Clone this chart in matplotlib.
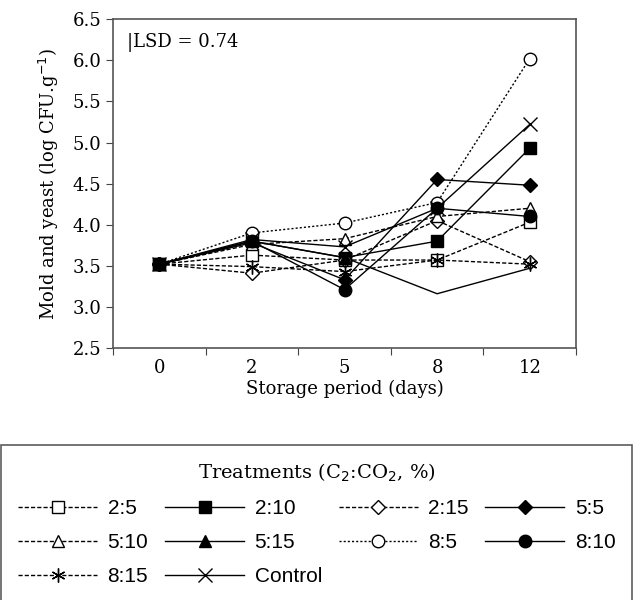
import numpy as np
import matplotlib.pyplot as plt
from matplotlib.ticker import FixedLocator, NullFormatter


# DATA
days = ["0", "2", "5", "8", "12"]
t_2_5 = [3.52, 3.63, 3.57, 3.57, 4.03]
t_2_10 = [3.52, 3.80, 3.60, 3.80, 4.93]
t_2_15 = [3.52, 3.41, 3.57, 4.05, 3.55]
t_5_5 = [3.52, 3.78, 3.33, 4.55, 4.48]
t_5_10 = [3.52, 3.76, 3.83, 4.10, 4.20]
t_5_15 = [3.52, 3.80, 3.60, 3.16, 3.47]
t_8_5 = [3.52, 3.90, 4.02, 4.27, 6.02]
t_8_10 = [3.52, 3.80, 3.21, 4.20, 4.10]
t_8_15 = [3.52, 3.49, 3.43, 3.57, 3.52]
control = [3.52, 3.82, 3.73, 4.20, 5.22]
lsd = 0.74


def plotSeries(ax, x, y, label, marker, face, ls, ms=8, markevery=None):
    ax.plot(x, y, color="black", linestyle=ls, linewidth=1.0, marker=marker,
            markersize=ms, markerfacecolor=face, markeredgecolor="black",
            markeredgewidth=1.0, label=label, markevery=markevery)


# MAIN SCRIPT
plt.rcParams['font.family'] = 'DejaVu Serif'
fig = plt.figure(figsize=(6.36, 6.0), dpi=100)
ax = fig.add_axes([0.1777, 0.42, 0.728, 0.548])

x = np.arange(len(days))
dash = (0, (3, 1.5))
plotSeries(ax, x, t_2_5, "2:5", "s", "white", dash, ms=9)
plotSeries(ax, x, t_2_10, "2:10", "s", "black", "-", ms=9)
plotSeries(ax, x, t_2_15, "2:15", "D", "white", dash, ms=7)
plotSeries(ax, x, t_5_5, "5:5", "D", "black", "-", ms=7)
plotSeries(ax, x, t_5_10, "5:10", "^", "white", dash, ms=9)
plotSeries(ax, x, t_5_15, "5:15", "^", "black", "-", ms=9, markevery=[0, 1, 2])
plotSeries(ax, x, t_8_5, "8:5", "o", "white", (0, (1.5, 1.5)), ms=9)
plotSeries(ax, x, t_8_10, "8:10", "o", "black", "-", ms=9)
plotSeries(ax, x, t_8_15, "8:15", (6, 2, 0), "white", dash, ms=10)
plotSeries(ax, x, control, "Control", "x", "none", "-", ms=10)

ax.set_xlim(-0.5, len(days) - 0.5)
ax.set_ylim(2.5, 6.5)
ax.set_yticks(np.arange(2.5, 6.51, 0.5))
ax.set_yticklabels(["%.1f" % v for v in np.arange(2.5, 6.51, 0.5)])
ax.xaxis.set_major_locator(FixedLocator(np.arange(-0.5, len(days), 1.0)))
ax.xaxis.set_major_formatter(NullFormatter())
ax.xaxis.set_minor_locator(FixedLocator(x))
ax.set_xticklabels(days, minor=True)
ax.tick_params(axis="x", which="minor", length=0, pad=8, labelsize=13)
ax.tick_params(axis="x", which="major", direction="out", length=5, color="#444444")
ax.tick_params(axis="y", direction="out", length=5, labelsize=13, color="#444444")
for s in ax.spines.values():
    s.set_color("#555555")
    s.set_linewidth(1.2)

ax.set_xlabel("Storage period (days)", fontsize=13, labelpad=2)
ax.set_ylabel("Mold and yeast (log CFU.g$^{-1}$)", fontsize=13, labelpad=8)
ax.text(0.03, 0.93, "|LSD = %.2f" % lsd, transform=ax.transAxes, fontsize=13,
        va="center", ha="left")

# legend rows read left to right, matplotlib fills columns first
handles, labels = ax.get_legend_handles_labels()
order = [0, 4, 8, 1, 5, 9, 2, 6, 3, 7]
leg = fig.legend([handles[i] for i in order], [labels[i] for i in order],
                 loc="upper left", bbox_to_anchor=(0.002, 0.258), borderaxespad=0,
                 ncol=4, frameon=True, fancybox=False, edgecolor="#333333",
                 handlelength=3.8, handletextpad=0.5, columnspacing=0.8,
                 labelspacing=0.72, borderpad=0.8,
                 title="Treatments (C$_2$:CO$_2$, %)",
                 prop={"family": "Liberation Sans", "size": 15},
                 title_fontproperties={"family": "DejaVu Serif", "size": 14})
leg.get_frame().set_linewidth(1.2)

plt.savefig("out.png", dpi=100)
